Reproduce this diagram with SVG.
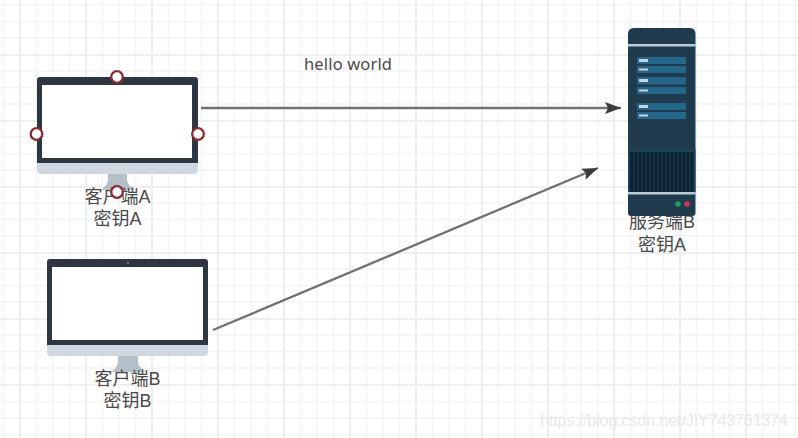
<svg xmlns="http://www.w3.org/2000/svg" width="798" height="438" viewBox="0 0 798 438">
<style>
.minor{stroke:#f4f4f4;stroke-width:1.5;fill:none}
.major{stroke:#eeeeee;stroke-width:2;fill:none}
.lbl{font-family:"Liberation Sans","Noto Sans CJK SC",sans-serif;font-size:18px;fill:#4a4a4a;text-anchor:middle}
.hdl{fill:#fff;stroke:#8c2b33;stroke-width:2.300}
.conn{stroke:#707070;stroke-width:2.300;fill:none}
.row{fill:#26658a}
.hl{fill:#c4d6e0}
.bezel{fill:#2e3642}
.chin{fill:#cfd8e1}
.stand{fill:#b4bfc8}
</style>
<defs>
<marker id="arr" markerUnits="userSpaceOnUse" markerWidth="18" markerHeight="12" refX="16" refY="6" orient="auto"><path d="M0 0L16 6L0 12L3 6Z" fill="#3c3c3c"/></marker>
</defs>
<rect width="798" height="438" fill="#fff"/>
<g id="grid">
<path class="minor" d="M3.5 0V438M36.5 0V438M53 0V438M69.5 0V438M102.500 0V438M119 0V438M135.500 0V438M168.500 0V438M185 0V438M201.500 0V438M234.500 0V438M251 0V438M267.500 0V438M300.500 0V438M317 0V438M333.500 0V438M366.500 0V438M383 0V438M399.500 0V438M432.500 0V438M449 0V438M465.500 0V438M498.500 0V438M515 0V438M531.500 0V438M564.500 0V438M581 0V438M597.500 0V438M630.500 0V438M647 0V438M663.500 0V438M696.500 0V438M713 0V438M729.500 0V438M762.500 0V438M779 0V438M795.500 0V438"/>
<path class="minor" d="M0 5H798M0 21.500H798M0 38H798M0 71H798M0 87.500H798M0 104H798M0 137H798M0 153.500H798M0 170H798M0 203H798M0 219.500H798M0 236H798M0 269H798M0 285.500H798M0 302H798M0 335H798M0 351.500H798M0 368H798M0 401.500H798M0 418H798M0 434.500H798"/>
<path class="major" d="M20 0V438M86 0V438M152 0V438M218 0V438M284 0V438M350 0V438M416 0V438M482 0V438M548 0V438M614 0V438M680 0V438M746 0V438"/>
<path class="major" d="M0 55H798M0 121H798M0 187H798M0 253H798M0 319H798M0 385H798"/>
</g>
<g id="connectors">
<path class="conn" marker-end="url(#arr)" d="M201 108H621"/>
<path class="conn" marker-end="url(#arr)" d="M213 330L598 168"/>
</g>
<text x="304" y="70" textLength="88" style="font-family:'Noto Sans',sans-serif;font-size:16.500px;fill:#4a4a4a">hello world</text>
<g id="clientA">
<path class="stand" d="M108 174H127V180Q128 186 135 190H101Q107 186 108 180Z"/>
<path class="chin" d="M37 160H198V170Q198 174 194 174H41Q37 174 37 170Z"/>
<path class="bezel" d="M40 77H195Q198 77 198 80V163H37V80Q37 77 40 77Z"/>
<rect x="42" y="85" width="150" height="73" fill="#fff"/>
<text class="lbl" x="117.500" y="203">客户端A</text>
<text class="lbl" x="117.500" y="225">密钥A</text>
<circle class="hdl" cx="117" cy="77" r="5.800"/>
<circle class="hdl" cx="36.500" cy="134" r="5.800"/>
<circle class="hdl" cx="198" cy="134" r="5.800"/>
<circle class="hdl" cx="117" cy="192" r="5.800"/>
</g>
<g id="clientB">
<path class="stand" d="M118 356H138V362Q139 368 146 372H111Q117 368 118 362Z"/>
<path class="chin" d="M47 342H208V352Q208 356 204 356H51Q47 356 47 352Z"/>
<path class="bezel" d="M50 259H205Q208 259 208 262V345H47V262Q47 259 50 259Z"/>
<rect x="52" y="267" width="151" height="73" fill="#fff"/>
<circle cx="128" cy="263" r="1.300" fill="#6b7480"/>
<text class="lbl" x="127.500" y="385">客户端B</text>
<text class="lbl" x="127.500" y="407">密钥B</text>
</g>
<g id="server">
<text class="lbl" x="662" y="228">服务端B</text>
<text class="lbl" x="662" y="251">密钥A</text>
<path d="M634 28H690Q695.500 28 695.500 34V213Q695.500 216 692 216L631 216Q628 216 628 213V34Q628 28 634 28Z" fill="#1f3b4d"/>
<rect x="628" y="44" width="67.500" height="2.500" fill="#b9cbd5"/>
<rect class="row" x="637" y="57" width="49" height="7"/>
<rect class="row" x="637" y="66" width="49" height="7"/>
<rect class="row" x="637" y="77" width="49" height="7.500"/>
<rect class="row" x="637" y="87" width="49" height="7"/>
<rect class="row" x="637" y="103" width="49" height="7"/>
<rect class="row" x="637" y="112" width="49" height="7"/>
<rect class="hl" x="639" y="59" width="9" height="3"/>
<rect class="hl" x="639" y="68.500" width="9" height="2"/>
<rect class="hl" x="639" y="79" width="9" height="3"/>
<rect class="hl" x="639" y="89.500" width="9" height="2"/>
<rect class="hl" x="639" y="105" width="9" height="3"/>
<rect class="hl" x="639" y="114.500" width="9" height="2"/>
<rect x="628" y="149" width="67.500" height="43" fill="#1c4258"/>
<rect x="630" y="152" width="63.500" height="40" fill="#0d2433"/>
<path d="M634 152V192M638 152V192M642 152V192M646 152V192M650 152V192M654 152V192M658 152V192M662 152V192M666 152V192M670 152V192M674 152V192M678 152V192M682 152V192M686 152V192M690 152V192" stroke="#1b3b4e" stroke-width="1.200"/>
<rect x="628" y="192" width="67.500" height="2.500" fill="#b9cbd5"/>
<circle cx="678" cy="204" r="2.800" fill="#1f9a6d"/>
<circle cx="687" cy="204" r="2.800" fill="#c23a55"/>
</g>
<text x="540" y="426" style="font-family:'Liberation Sans',sans-serif;font-size:16px;fill:#e8e8e8" textLength="248">https://blog.csdn.net/JIY743761374</text>
</svg>
